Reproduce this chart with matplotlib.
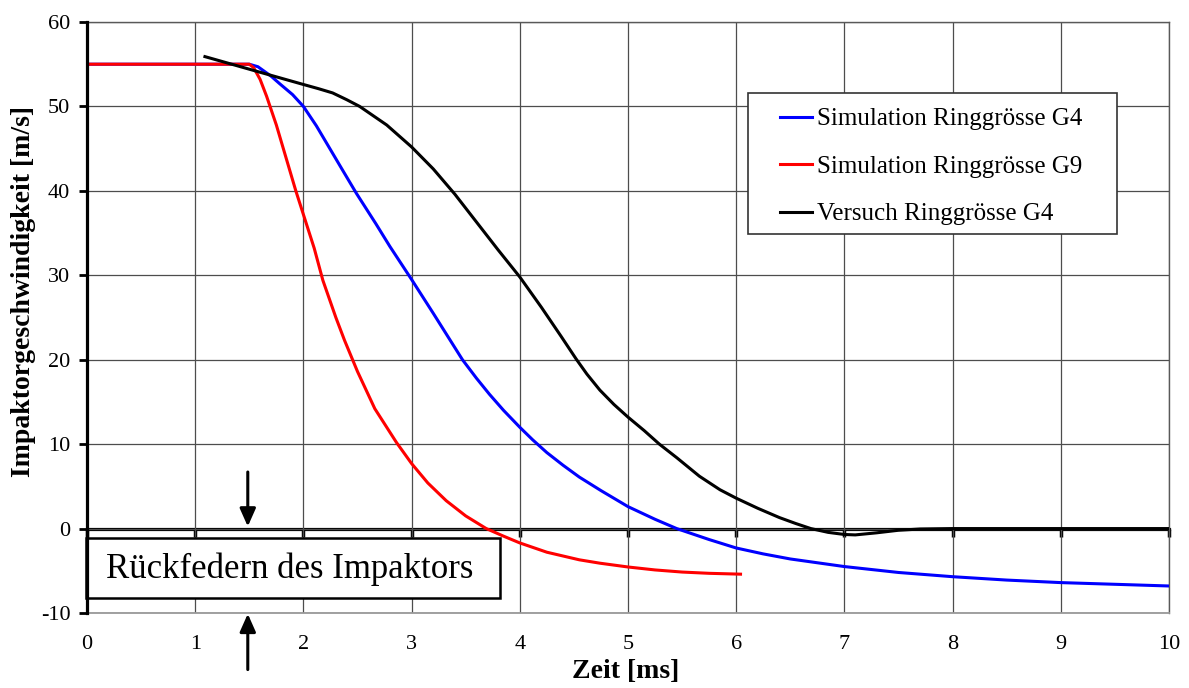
import matplotlib
matplotlib.use("Agg")
import matplotlib.pyplot as plt
from matplotlib.patches import Rectangle

plt.rcParams['font.family'] = ['Liberation Serif', 'DejaVu Serif']
plt.rcParams['axes.unicode_minus'] = False

# ---------------- data ----------------
g4_sim_t = [0, 1.5, 1.58, 1.7, 1.78, 1.9, 2.0, 2.12, 2.24, 2.36, 2.49, 2.67, 2.8, 3.0,
            3.2, 3.47, 3.6, 3.72, 3.85, 4.0, 4.12, 4.25, 4.4, 4.55, 4.75, 5.0, 5.25,
            5.45, 5.75, 6.0, 6.25, 6.5, 7.0, 7.5, 8.0, 8.5, 9.0, 9.5, 10.0]
g4_sim_v = [55, 55, 54.7, 53.6, 52.7, 51.4, 50.0, 47.7, 45.1, 42.5, 39.7, 36.1, 33.4, 29.5,
            25.5, 20.0, 17.8, 15.9, 14.0, 12.0, 10.5, 9.0, 7.5, 6.1, 4.5, 2.6, 1.1,
            0.0, -1.3, -2.3, -3.0, -3.6, -4.5, -5.2, -5.7, -6.1, -6.4, -6.6, -6.8]

g9_sim_t = [0, 1.5, 1.54, 1.6, 1.66, 1.75, 1.93, 2.0, 2.1, 2.18, 2.3, 2.38, 2.5, 2.66,
            2.86, 3.0, 3.15, 3.32, 3.5, 3.69, 3.85, 4.0, 4.25, 4.55, 4.74, 5.0, 5.25,
            5.5, 5.75, 6.04]
g9_sim_v = [55, 55, 54.6, 53.2, 51.2, 47.8, 40.0, 37.2, 33.2, 29.4, 25.0, 22.3, 18.6, 14.2,
            10.2, 7.7, 5.4, 3.3, 1.5, 0.0, -0.9, -1.7, -2.8, -3.7, -4.1, -4.55, -4.9,
            -5.15, -5.3, -5.4]

g4_test_t = [1.09, 1.53, 2.0, 2.14, 2.27, 2.4, 2.52, 2.77, 3.0, 3.2, 3.4, 3.6, 3.8,
             4.0, 4.2, 4.38, 4.52, 4.62, 4.74, 4.87, 5.0, 5.15, 5.29, 5.45, 5.66, 5.85,
             6.0, 6.2, 6.4, 6.55, 6.69, 6.85, 7.0, 7.1, 7.3, 7.5, 7.7, 8.0, 9.0, 10.0]
g4_test_v = [55.9, 54.3, 52.6, 52.1, 51.6, 50.8, 50.0, 47.8, 45.2, 42.6, 39.6, 36.3, 33.0,
             29.8, 26.2, 22.8, 20.1, 18.3, 16.4, 14.7, 13.2, 11.6, 10.0, 8.4, 6.2, 4.6,
             3.6, 2.4, 1.3, 0.6, 0.0, -0.45, -0.7, -0.75, -0.5, -0.2, -0.05, 0, 0, 0]

labels = ["Simulation Ringgrösse G4", "Simulation Ringgrösse G9", "Versuch Ringgrösse G4"]
x_ticks = list(range(0, 11))
y_ticks = list(range(-10, 61, 10))
annotation_text = "Rückfedern des Impaktors"

# ---------------- figure ----------------
W, H = 1189, 688
fig = plt.figure(figsize=(W / 100, H / 100), dpi=100)
L, R, T, B = 87, 1169, 22, 613
ax = fig.add_axes([L / W, 1 - B / H, (R - L) / W, (B - T) / H])

ax.set_xlim(0, 10)
ax.set_ylim(-10, 60)

ax.plot(g4_sim_t, g4_sim_v, color='#0000ff', lw=2.2, label=labels[0], zorder=4)
ax.plot(g9_sim_t, g9_sim_v, color='#ff0000', lw=2.2, label=labels[1], zorder=5)
ax.plot(g4_test_t, g4_test_v, color='black', lw=2.2, label=labels[2], zorder=6)

# grid
ax.set_xticks(x_ticks)
ax.set_yticks(y_ticks)
ax.grid(True, color='0.3', lw=0.9, zorder=1)
ax.set_axisbelow(True)

for s in ['top', 'right']:
    ax.spines[s].set_color('0.35')
    ax.spines[s].set_linewidth(1.0)
ax.spines['bottom'].set_color('0.6')
ax.spines['bottom'].set_linewidth(1.3)
ax.spines['left'].set_color('black')
ax.spines['left'].set_linewidth(2.3)
ax.spines['left'].set_zorder(7)

ax.tick_params(axis='x', length=0, pad=16, labelsize=16)
ax.tick_params(axis='y', direction='out', length=6, width=2.0, pad=6, labelsize=16)

# zero line with downward ticks
sec = ax.secondary_xaxis(10 / 70)
sec.set_xticks(x_ticks)
sec.tick_params(axis='x', direction='out', length=6, width=2.5, labelbottom=False)
sec.spines['bottom'].set_linewidth(2.3)
sec.spines['bottom'].set_color('black')

ax.set_xlabel("Zeit [ms]", fontsize=20, fontweight='bold')
ax.xaxis.set_label_coords((626 - L) / (R - L), -(671 - B) / (B - T), transform=ax.transAxes)
ax.xaxis.label.set_va('center')
ax.set_ylabel("Impaktorgeschwindigkeit [m/s]", fontsize=20, fontweight='bold')
ax.yaxis.set_label_coords((24 - L) / (R - L), (B - 291.5) / (B - T))
ax.yaxis.label.set_va('center')

# legend (frame drawn separately)
leg = ax.legend(loc='center left', bbox_to_anchor=((780 - L) / (R - L), (B - 166.5) / (B - T)),
                frameon=False, fontsize=18, handlelength=1.28, handletextpad=0.2,
                labelspacing=1.0, borderpad=0, borderaxespad=0)
leg.set_zorder(9)
frame = Rectangle(((748 - L) / (R - L), (B - 234) / (B - T)),
                  (1117 - 748) / (R - L), (234 - 93) / (B - T),
                  transform=ax.transAxes, facecolor='white', edgecolor='0.2', lw=1.2, zorder=8)
ax.add_patch(frame)

# annotation box
box = Rectangle((-0.01, -8.2), 3.83, 7.13, facecolor='white', edgecolor='black',
                lw=1.8, zorder=3, clip_on=False)
ax.add_patch(box)
ax.text(1.87, -5.81, annotation_text, fontsize=25, ha='center', va='baseline', zorder=4)

# arrows
ap = dict(arrowstyle='-|>,head_length=0.45,head_width=0.2', lw=2.2, color='black',
          mutation_scale=24, shrinkA=0, shrinkB=0)
ax.annotate('', xy=(1.486, 0.25), xytext=(1.486, 6.7), arrowprops=ap,
            annotation_clip=False, zorder=7)
ax.annotate('', xy=(1.486, -10.1), xytext=(1.486, -16.7), arrowprops=ap,
            annotation_clip=False, zorder=7)

fig.savefig("out.png", dpi=100)
